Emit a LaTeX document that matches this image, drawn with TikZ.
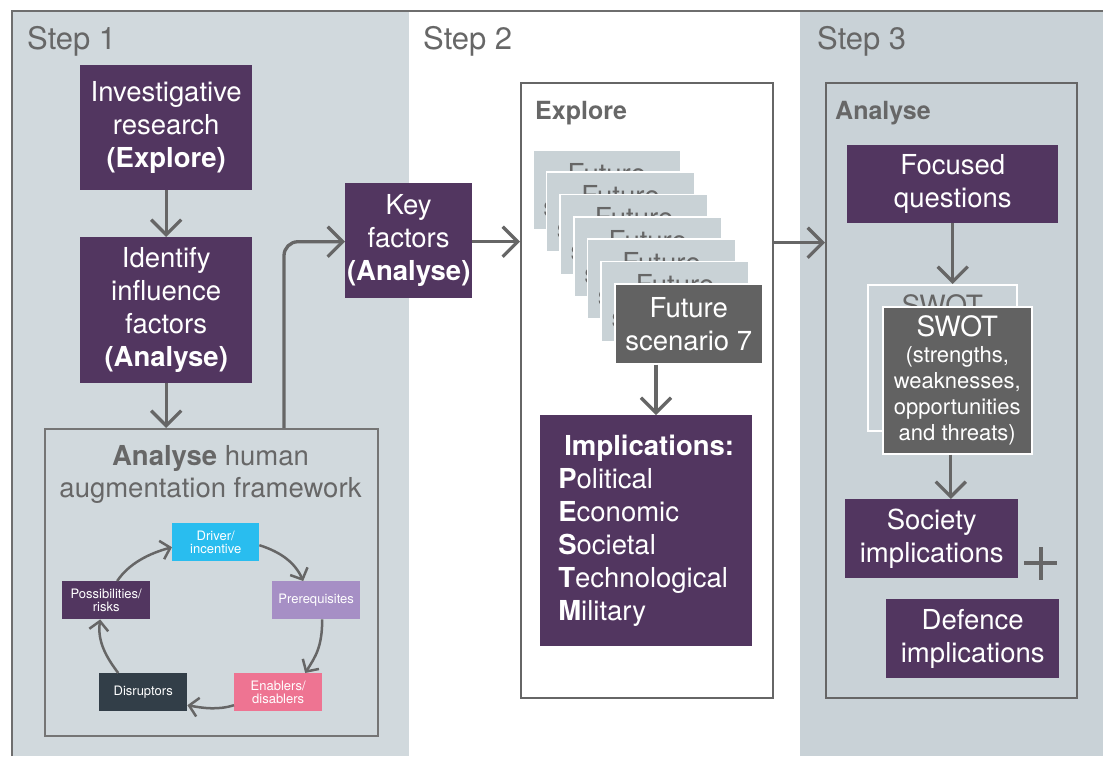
\documentclass[tikz,border=0pt]{standalone}
\usepackage{fontspec}
\setmainfont{TeX Gyre Heros}
\usetikzlibrary{arrows.meta,calc}
\definecolor{purp}{HTML}{523660}
\definecolor{panelA}{HTML}{D1D9DD}
\definecolor{panelC}{HTML}{C9D2D7}
\definecolor{lineg}{HTML}{666666}
\definecolor{cardlight}{HTML}{C9D2D6}
\definecolor{carddark}{HTML}{626262}
\definecolor{cyanbox}{HTML}{29BDEF}
\definecolor{lavbox}{HTML}{A68FC5}
\definecolor{pinkbox}{HTML}{EE7492}
\definecolor{slatebox}{HTML}{323E48}
\definecolor{titleg}{HTML}{676767}
\begin{document}
\begin{tikzpicture}[x=1pt,y=-1pt,
  mainfont/.style={font=\fontsize{27.5}{33}\selectfont},
  pbox/.style={fill=purp,text=white,inner sep=0pt,align=center,anchor=north west,mainfont},
  frame/.style={draw=lineg,line width=1.8pt,inner sep=0pt,anchor=north west},
  lcard/.style={fill=cardlight,draw=white,line width=1.5pt,text=lineg,inner sep=0pt,align=center,anchor=north west,minimum width=148pt,minimum height=80pt,mainfont},
  dcard/.style={fill=carddark,draw=white,line width=1.5pt,text=white,inner sep=0pt,align=center,anchor=north west,minimum width=148pt,minimum height=80pt,mainfont},
  cyc/.style={inner sep=0pt,text=white,align=center,anchor=north west,minimum width=88pt,minimum height=38pt,font=\fontsize{13}{13.5}\selectfont},
  arr/.style={draw=lineg,line width=3.3pt,-{Straight Barb[length=15pt,width=30pt]}},
  carr/.style={draw=lineg,line width=2.5pt,-{Straight Barb[length=9pt,width=19pt]}},
  steptitle/.style={anchor=base west,inner sep=0pt,text=titleg,font=\fontsize{31}{31}\selectfont},
  boxtitle/.style={anchor=base west,inner sep=0pt,text=titleg,font=\fontsize{25}{25}\selectfont\bfseries}
]
\useasboundingbox (0,0) rectangle (1103,756);
% panels
\fill[panelA] (12,11) rectangle (409,756);
\fill[panelC] (800,11) rectangle (1103,756);
\draw[lineg!95,line width=2pt] (12,756) -- (12,11) -- (1103,11);

\node[steptitle] (s1) at (27,49) {Step 1};
\node[steptitle] (s2) at (423,49) {Step 2};
\node[steptitle] (s3) at (817,49) {Step 3};

% Step 1
\node[pbox,minimum width=172pt,minimum height=125pt] (inv) at (80,65) {Investigative\\research\\\textbf{(Explore)}};
\node[pbox,minimum width=172pt,minimum height=146pt] (ident) at (80,237) {Identify\\influence\\factors\\\textbf{(Analyse)}};
\node[frame,draw=lineg!90,line width=1.5pt,fill=panelA,minimum width=333pt,minimum height=307pt] (fw) at (44,428) {};
\node[anchor=north,inner sep=0pt,text=titleg,align=center,font=\fontsize{27.5}{32}\selectfont] (fwt) at (210.5,445) {\textbf{Analyse} human\\augmentation framework};

\node[cyc,fill=cyanbox,minimum width=87pt] (drv) at (172,523) {Driver/\\incentive};
\node[cyc,fill=lavbox] (pre) at (272,581) {Prerequisites};
\node[cyc,fill=pinkbox] (enb) at (234,673) {Enablers/\\disablers};
\node[cyc,fill=slatebox] (dis) at (99,673) {Disruptors};
\node[cyc,fill=purp] (pos) at (62,581) {Possibilities/\\risks};

\draw[carr] ([yshift=-3pt]drv.east) .. controls +(22,7) and +(-8,-18) .. ([xshift=-13pt]pre.north);
\draw[carr] ([xshift=6pt]pre.south) .. controls +(0,28) and +(10,-16) .. ([xshift=27pt]enb.north);
\draw[carr] ([yshift=-13pt]enb.west) .. controls +(-16,5) and +(16,3) .. ([yshift=-13pt]dis.east);
\draw[carr] ([xshift=-25pt]dis.north) .. controls +(-12,-16) and +(-3,22) .. ([xshift=-6pt]pos.north |- pos.south);
\draw[carr] ([xshift=11pt]pos.north) .. controls +(12,-18) and +(-22,6) .. ([yshift=-5pt]drv.west);

\draw[arr] (inv.south) -- (ident.north);
\draw[arr] (ident.south) -- (ident.south |- fw.north);

% Key factors
\node[pbox,minimum width=127pt,minimum height=115pt] (key) at (345,183) {Key\\factors\\\textbf{(Analyse)}};
\draw[arr,rounded corners=14pt] ([xshift=240pt]fw.north west) |- ([yshift=-1pt]key.west);

% Step 2
\node[frame,fill=white,minimum width=252pt,minimum height=615pt] (exbox) at (520,82) {};
\node[boxtitle] (ext) at (535,119) {Explore};
\draw[arr] ([yshift=-1pt]key.east) -- ([yshift=-1pt]key.east -| exbox.west);

\foreach \k in {0,...,5} {
  \pgfmathsetmacro\cx{532+13.667*\k}
  \pgfmathsetmacro\cy{149+22.333*\k}
  \pgfmathtruncatemacro\n{\k+1}
  \node[lcard] (sc\n) at (\cx,\cy) {Future\\scenario \n};
}
\node[dcard] (sc7) at (614,283) {Future\\scenario 7};

\node[pbox,align=left,minimum width=212pt,minimum height=231pt] (impl) at (540,415) {%
  \hspace*{6pt}\textbf{Implications:}\\
  \textbf{P}olitical\\
  \textbf{E}conomic\\
  \textbf{S}ocietal\\
  \textbf{T}echnological\\
  \textbf{M}ilitary};
\draw[arr] ([xshift=42pt]sc7.south west) -- ([xshift=42pt]sc7.south west |- impl.north);

% Step 3
\node[frame,fill=panelC,minimum width=251pt,minimum height=615pt] (anbox) at (825,82) {};
\node[boxtitle] (ant) at (835,119) {Analyse};
\draw[arr] ([yshift=-2pt]key.east -| exbox.east) -- ([yshift=-2pt]key.east -| anbox.west);

\node[pbox,minimum width=211pt,minimum height=78pt] (foc) at (847,145) {Focused\\questions};
\node[fill=panelC,draw=white,line width=1.5pt,text=lineg,inner sep=0pt,align=center,anchor=north west,minimum width=149pt,minimum height=146pt,text depth=106pt,font=\fontsize{28}{30}\selectfont] (swb) at (867,284) {SWOT};
\node[fill=carddark,draw=white,line width=1.5pt,text=white,inner sep=0pt,align=center,anchor=north west,minimum width=149pt,minimum height=147pt,font=\fontsize{22}{26}\selectfont] (swf) at (882,306) {{\fontsize{28}{30}\selectfont SWOT}\\(strengths,\\weaknesses,\\opportunities\\and threats)};
\draw[arr] (foc.south) -- (foc.south |- swb.north);

\node[pbox,minimum width=173pt,minimum height=79pt] (soc) at (845,499) {Society\\implications};
\node[pbox,minimum width=173pt,minimum height=79pt] (def) at (886,599) {Defence\\implications};
\draw[arr] ([xshift=-6.5pt]swf.south) -- ([xshift=-6.5pt]swf.south |- soc.north);

\draw[lineg,line width=4pt] (1024,563) -- (1057,563) (1041,547) -- (1041,580);
\end{tikzpicture}
\end{document}
